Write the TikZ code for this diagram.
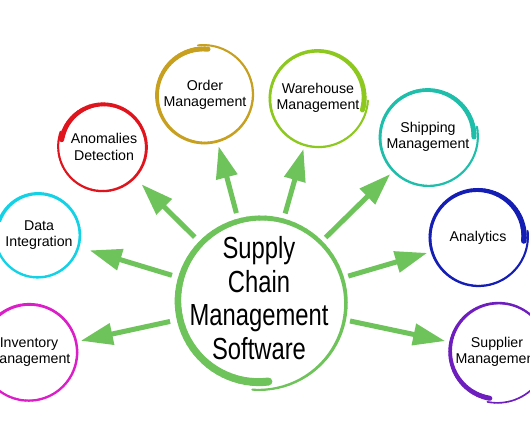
\documentclass[tikz,border=0pt]{standalone}
\usepackage{fontspec}
\setmainfont{Liberation Sans}
\newfontfamily\condfont[FakeStretch=0.78]{Liberation Sans}
\usetikzlibrary{arrows.meta}
\definecolor{scmgreen}{HTML}{6EC35A}
\definecolor{ringred}{HTML}{E0141C}
\definecolor{ringgold}{HTML}{C8A020}
\definecolor{ringlime}{HTML}{8CC81E}
\definecolor{ringteal}{HTML}{1EBEAA}
\definecolor{ringcyan}{HTML}{14D2E6}
\definecolor{ringblue}{HTML}{141EB4}
\definecolor{ringmag}{HTML}{DC1EC8}
\definecolor{ringpurple}{HTML}{6E1EBE}
\def\bexp{2}
% cx, cy, r, start angle, sweep, radius growth, wmax, wmin, colour
\newcommand\brushring[9]{%
  \foreach \k in {0,...,89}{%
    \pgfmathsetmacro\ta{\k/90}%
    \pgfmathsetmacro\tb{(\k+1)/90}%
    \pgfmathsetmacro\aa{#4+(#5)*\ta}%
    \pgfmathsetmacro\ab{#4+(#5)*\tb}%
    \pgfmathsetmacro\ra{#3+(#6)*\ta}%
    \pgfmathsetmacro\rb{#3+(#6)*\tb}%
    \pgfmathsetmacro\wd{#8+(#7-#8)*(1-\ta)^\bexp}%
    \draw[draw=#9, line width=\wd pt, line cap=round]
      ({#1+\ra*cos(\aa)},{#2+\ra*sin(\aa)}) -- ({#1+\rb*cos(\ab)},{#2+\rb*sin(\ab)});
  }}
\begin{document}
\begin{tikzpicture}[x=1pt,y=-1pt,
  sat/.style={circle, minimum size=106pt, inner sep=0pt, outer sep=0pt,
    align=center, font=\fontsize{14.2}{16.5}\selectfont, text=black},
  arr/.style={draw=scmgreen, line width=5pt,
    -{Triangle[length=32pt,width=21pt]}}]
\fill[white] (0,0) rectangle (530,443);
\useasboundingbox (0,0) rectangle (530,443);

% nodes
\node[circle, minimum size=184pt, inner sep=0pt, outer sep=0pt] (scm) at (260,302) {};
\node[align=center, font=\condfont\fontsize{30.5}{33.8}\selectfont] (scmtext) at (259,298)
  {Supply\\Chain\\Management\\Software};
\node[sat] (ano) at (104,147) {Anomalies\\Detection};
\node[sat] (ord) at (205,95) {Order\\Management};
\node[sat] (war) at (318,98) {Warehouse\\Management};
\node[sat] (shp) at (428,137) {Shipping\\Management};
\node[sat] (dat) at (39,235) {Data\\Integration};
\node[sat] (ana) at (478,238) {Analytics};
\node[sat] (inv) at (29,352) {Inventory\\Management};
\node[sat] (sup) at (497,352) {Supplier\\Management};

% rings
\def\bexp{1}
\brushring{260}{302}{80}{84}{371}{8}{8}{2}{scmgreen}
\def\bexp{2}
\brushring{103}{147}{42}{190}{370}{3}{5}{2}{ringred}
\brushring{204}{95}{46}{-85}{-372}{4}{5}{2}{ringgold}
\brushring{318}{98}{46}{15}{-372}{4}{5}{2}{ringlime}
\brushring{428}{137}{46}{0}{-372}{4}{5}{2}{ringteal}
\brushring{38}{235}{41}{200}{365}{2}{3.5}{2.2}{ringcyan}
\brushring{478}{237}{46}{5}{-372}{4}{5.5}{2}{ringblue}
\brushring{29}{352}{47}{150}{365}{2}{3.5}{2.2}{ringmag}
\brushring{498}{352}{47}{100}{362}{4}{5}{1.6}{ringpurple}

% connectors
\foreach \t in {ano,ord,war,shp,dat,ana,inv,sup}
  \draw[arr] (scm) -- (\t);
\end{tikzpicture}
\end{document}
